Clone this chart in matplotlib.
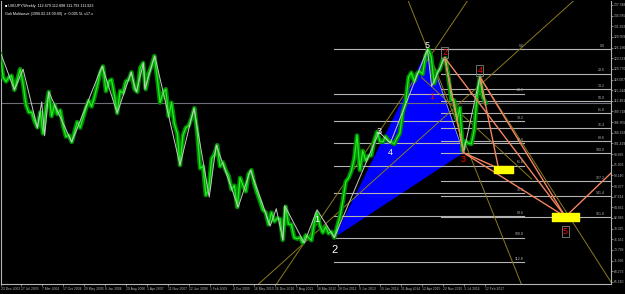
import numpy as np
import pandas as pd
import matplotlib
matplotlib.use("Agg")
import matplotlib.pyplot as plt
import matplotlib.dates as mdates

plt.rcParams["font.family"] = ["Liberation Sans", "DejaVu Sans"]

# monthly USDJPY (weekly chart, read roughly)
months = pd.date_range("2002-12-01", "2017-02-01", freq="MS") + pd.Timedelta(days=14)
price = [124.5,
         118.5, 117.5, 118.5, 119.0, 115.3, 118.0, 120.7, 117.0, 111.5, 109.5, 109.5, 107.2,
         105.6, 109.5, 104.0, 110.5, 114.8, 108.5, 111.5, 109.0, 110.0, 106.0, 103.2, 103.5,
         101.8, 104.5, 107.0, 105.5, 108.0, 110.5, 112.5, 111.0, 113.5, 116.5, 119.8, 121.4,
         115.0, 117.5, 118.0, 114.0, 109.3, 115.0, 114.5, 117.5, 118.0, 119.9, 115.5, 114.8,
         121.0, 122.3, 115.5, 119.5, 121.5, 124.1, 118.5, 112.0, 114.5, 115.5, 108.5, 112.0,
         106.5, 104.0, 95.8, 103.5, 105.5, 106.0, 108.0, 110.6, 104.0, 95.0, 95.5, 88.0,
         89.5, 97.5, 98.5, 101.0, 95.5, 96.5, 94.5, 93.0, 89.5, 90.5, 84.9, 92.5,
         90.5, 89.0, 93.5, 94.5, 91.0, 88.5, 86.5, 84.2, 83.5, 80.4, 83.5, 81.2,
         82.0, 81.8, 76.4, 85.0, 80.5, 80.4, 77.0, 76.7, 77.0, 75.6, 77.6, 77.0,
         76.3, 81.0, 83.4, 80.0, 78.3, 79.8, 78.1, 78.5, 77.0, 79.8, 82.5, 86.5,
         91.5, 92.5, 94.2, 97.5, 103.5, 94.5, 99.5, 97.0, 98.2, 98.3, 102.2, 104.4,
         102.0, 101.8, 103.2, 102.1, 101.8, 101.3, 102.8, 104.1, 109.6, 112.0, 118.6, 119.8,
         117.5, 119.6, 120.1, 119.4, 124.1, 125.8, 123.9, 117.0, 119.9, 120.6, 123.1, 123.5,
         118.5, 112.7, 112.6, 107.5, 110.7, 99.5, 102.0, 101.5, 101.3, 104.8, 113.5, 118.6,
         113.5, 111.9]

# zigzag pivots
zz_dates = pd.to_datetime(["2002-12-23", "2003-05-15", "2003-08-15", "2004-01-15", "2004-03-01",
                           "2004-04-01", "2004-05-15", "2005-01-15", "2005-12-05", "2006-05-15",
                           "2006-10-10", "2006-12-05", "2007-02-20", "2007-03-05", "2007-06-20",
                           "2008-03-15", "2008-08-10", "2009-01-20", "2009-04-05", "2009-11-25",
                           "2010-04-05", "2010-11-01", "2011-01-05", "2011-03-17", "2011-04-05",
                           "2011-10-30", "2012-03-15", "2012-09-15", "2014-01-05", "2014-05-05",
                           "2015-06-05", "2015-07-20", "2015-12-05", "2016-06-24", "2016-12-15",
                           "2017-02-10"])
zz_vals = [124.6, 115.3, 120.7, 105.4, 112.2,
           103.4, 114.8, 101.8, 121.5, 109.3,
           119.9, 114.8, 122.3, 115.5, 124.1,
           95.8, 110.6, 87.5, 101.0, 84.9,
           94.5, 80.0, 84.5, 76.4, 85.3,
           75.6, 84.2, 77.0, 104.4, 101.5,
           125.9, 116.2, 123.7, 99.0, 118.7,
           111.9]

# harmonic pattern points
white_dates = pd.to_datetime(["2012-03-15", "2012-09-15", "2014-01-05", "2014-05-05", "2015-06-05"])
white_vals = [84.2, 77.0, 104.4, 101.5, 125.9]
red_dates = pd.to_datetime(["2015-07-20", "2015-12-05", "2016-06-24", "2016-12-15", "2019-06-15"])
red_vals = [116.2, 123.7, 99.0, 118.7, 82.4]
box1 = (pd.Timestamp("2017-05-13"), pd.Timestamp("2017-12-01"), 93.75, 95.6)
box2 = (pd.Timestamp("2019-01-21"), pd.Timestamp("2019-11-05"), 81.3, 83.4)
box1_hit = (pd.Timestamp("2017-07-01"), 95.0)
target = (pd.Timestamp("2020-10-25"), 94.0)

# fibonacci levels
fib_a = [0.0, 23.6, 38.2, 50.0, 61.8, 76.4, 88.6, 100.0, 112.8]
fib_b = [0.0, 23.6, 38.2, 50.0, 61.8, 76.4, 88.6, 100.0, 127.2, 141.4, 161.8]

xlabels = ["23 Dec 2002", "27 Jul 2003", "7 Mar 2004", "17 Oct 2004", "29 May 2005", "8 Jan 2006",
           "20 Aug 2006", "1 Apr 2007", "11 Nov 2007", "22 Jun 2008", "1 Feb 2009", "4 Oct 2009",
           "16 May 2010", "26 Dec 2010", "7 Aug 2011", "18 Mar 2012", "28 Oct 2012", "9 Jun 2013",
           "19 Jan 2014", "31 Aug 2014", "12 Apr 2015", "22 Nov 2015", "3 Jul 2016", "12 Feb 2017"]

BG = "black"
GRID = "#b4b4b4"
OLIVE = "#8c7a1e"
ORANGE = "#f4845f"

fig = plt.figure(figsize=(6.25, 2.94), dpi=100, facecolor=BG)
ax = fig.add_axes([1 / 625, 10 / 294, 610 / 625, 283 / 294], facecolor=BG)

d = mdates.date2num
x0 = d(pd.Timestamp("2002-12-23"))
xr = x0 + 609 * 10.68
ax.set_xlim(x0, xr)
ax.set_ylim(64.96, 138.37)

# blue triangle (2 - 5 - red 3)
ax.fill([d(white_dates[1]), d(white_dates[4]), d(red_dates[2])],
        [white_vals[1], white_vals[4], red_vals[2]], color="#0000ff", zorder=1, lw=0)
ax.plot([white_dates[4], red_dates[2]], [white_vals[4], red_vals[2]], color="#9fa8ff", lw=0.6, zorder=1)

# current price line
ax.axhline(price[-1], color="#6e6e78", lw=0.8, zorder=1)

# fib set A: 2 -> 5
lo, hi = white_vals[1], white_vals[4]
xa0, xa1 = d(white_dates[1]), d(pd.Timestamp("2018-03-27"))
for f in fib_a:
    yv = hi - (hi - lo) * f / 100
    ax.plot([xa0, xa1], [yv, yv], color=GRID, lw=0.8, zorder=2)
    ax.text(xa1, yv + 0.3, "%.1f" % f, color=GRID, fontsize=2.6, ha="right", va="bottom")

# fib set B: 5 -> red 3
lo, hi = red_vals[2], white_vals[4]
xb0 = d(pd.Timestamp("2015-11-01"))
for f in fib_b:
    yv = hi - (hi - lo) * f / 100
    ax.plot([xb0, xr], [yv, yv], color=GRID, lw=0.8, zorder=2)
    ax.text(x0 + 603 * 10.68, yv + 0.3, "%.1f" % f, color=GRID, fontsize=2.6, ha="right", va="bottom")

# price bars
ax.plot(months, price, color="#008c00", lw=3.2, zorder=3)
ax.plot(months, price, color="#22ee22", lw=0.9, zorder=3)
ax.plot(zz_dates, zz_vals, color="#c8c8c8", lw=0.7, zorder=4)

# olive lines
ax.axline((d(zz_dates[25]), zz_vals[25]), (d(white_dates[2]), white_vals[2]), color=OLIVE, lw=0.7, zorder=2)
ax.axline((d(zz_dates[25]), zz_vals[25]), (d(pd.Timestamp("2018-02-01")), 125.6), color=OLIVE, lw=0.7, zorder=2)
ax.axline((d(white_dates[4]), white_vals[4]), (d(pd.Timestamp("2018-03-01")), 65.0), color=OLIVE, lw=0.7, zorder=2)
ax.plot([pd.Timestamp("2015-04-01"), pd.Timestamp("2018-06-20")], [118.6, 92.2], color=OLIVE, lw=0.7, zorder=2)
ax.plot([red_dates[3], pd.Timestamp("2020-10-25")], [red_vals[3], 65.0], color=OLIVE, lw=0.7, zorder=2)

# orange pattern lines
segs = [(red_dates[1], red_vals[1], red_dates[2], red_vals[2]),
        (red_dates[2], red_vals[2], box1_hit[0], box1_hit[1]),
        (red_dates[3], red_vals[3], box1_hit[0], box1_hit[1]),
        (red_dates[2], red_vals[2], red_dates[4], red_vals[4]),
        (red_dates[3], red_vals[3], red_dates[4], red_vals[4]),
        (red_dates[1], red_vals[1], red_dates[4], red_vals[4]),
        (red_dates[4], red_vals[4], target[0], target[1])]
for a, b, c, e in segs:
    ax.plot([a, c], [b, e], color=ORANGE, lw=1.0, zorder=5)

# yellow boxes
for b in (box1, box2):
    ax.fill_between([d(b[0]), d(b[1])], b[2], b[3], color="yellow", zorder=6)

# labels
for dt, v, t, off in zip(white_dates, white_vals, ["1", "2", "3", "4", "5"], [-2.4, -3.3, 0.0, -2.3, 1.0]):
    ax.text(dt, v + off, t, color="white", fontsize=8 if t == "2" else 6.5, ha="center", va="center", zorder=7)
for dt, v, t, off in zip(red_dates, red_vals, ["1", "2", "3", "4", "5"], [-2.7, 1.3, -1.8, 1.6, -3.8]):
    box = dict(boxstyle="square,pad=0.12", fc="none", ec="#808080", lw=0.6) if t in "245" else None
    ax.text(dt, v + off, t, color="red", fontsize=6.5, ha="center", va="center", zorder=7, bbox=box)

# axes styling
for s in ax.spines.values():
    s.set_color(GRID)
    s.set_linewidth(0.8)
ax.spines["top"].set_visible(False)
yt = np.arange(65.51, 138.0, 2.763)
ax.yaxis.tick_right()
ax.set_yticks(yt)
ax.set_yticklabels(["%.3f" % v for v in yt])
tick_dates = [pd.Timestamp(s) for s in xlabels]
ax.set_xticks(tick_dates)
ax.set_xticklabels(xlabels, ha="left")
ax.tick_params(colors=GRID, labelsize=2.4, length=1.5, width=0.5, pad=0.8)

fig.text(0.008, 0.985, "\u25a0 USDJPY,Weekly  112.679 112.898 111.793 111.923", color="white", fontsize=2.7, va="top")
fig.text(0.008, 0.96, "Gali Multiwave (1996.02.24 00:00)  e: 0.005 5L x17.x", color="white", fontsize=2.7, va="top")

fig.savefig("out.png", dpi=100, facecolor=BG)
